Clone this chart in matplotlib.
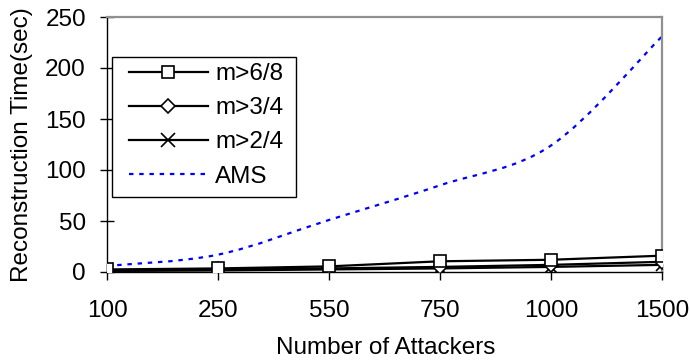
import numpy as np
import matplotlib
matplotlib.use("Agg")
import matplotlib.pyplot as plt
from matplotlib.path import Path
from matplotlib.patches import PathPatch, Rectangle
from matplotlib.lines import Line2D

categories = ["100", "250", "550", "750", "1000", "1500"]
m68 = [2.5, 3.5, 5.5, 10.5, 12, 16]
m34 = [1.5, 2.5, 3.5, 5, 7, 10]
m24 = [1, 1.5, 2.5, 3.5, 5, 7]
ams = [6, 17, 51, 85, 124, 231]
yticks = [0, 50, 100, 150, 200, 250]

plt.rcParams['font.family'] = ['Liberation Sans', 'DejaVu Sans']
FS = 17.5

W, H = 690, 360
fig = plt.figure(figsize=(W/100, H/100), dpi=100)
ax = fig.add_axes([107/W, 1-272/H, (662-107)/W, (272-17)/H])

x = np.arange(len(categories))

# smoothed AMS curve (Catmull-Rom -> cubic Bezier)
pts = np.column_stack([x, ams]).astype(float)
verts = [tuple(pts[0])]
codes = [Path.MOVETO]
n = len(pts)
for i in range(n-1):
    p0 = pts[i-1] if i > 0 else pts[i]
    p1 = pts[i]
    p2 = pts[i+1]
    p3 = pts[i+2] if i+2 < n else pts[i+1]
    c1 = p1 + (p2 - p0) / 6.0
    c2 = p2 - (p3 - p1) / 6.0
    verts += [tuple(c1), tuple(c2), tuple(p2)]
    codes += [Path.CURVE4]*3
ams_style = dict(color='#0000ff', lw=1.6, linestyle=(0, (2, 2.6)))
patch = PathPatch(Path(verts, codes), fill=False, edgecolor='#0000ff',
                  lw=1.6, linestyle=(0, (2, 2.6)), zorder=2)
ax.add_patch(patch)

ax.plot(x, m24, color='black', lw=1.6, marker='x', markersize=9,
        markeredgewidth=1.2, zorder=3)
ax.plot(x, m34, color='black', lw=1.6, marker='D', markersize=7,
        markerfacecolor='white', markeredgewidth=1.2, zorder=3)
ax.plot(x, m68, color='black', lw=1.6, marker='s', markersize=8,
        markerfacecolor='white', markeredgewidth=1.2, zorder=3)

ax.set_xlim(0, len(categories)-1)
ax.set_ylim(0, 250)
ax.set_xticks(x)
ax.set_xticklabels(categories)
ax.set_yticks(yticks)
ax.tick_params(axis='y', direction='inout', length=9.5, width=1, labelsize=FS, pad=10.4)
ax.tick_params(axis='x', direction='inout', length=11, width=1, labelsize=FS, pad=14.5)

for s in ['left', 'bottom']:
    ax.spines[s].set_color('black')
    ax.spines[s].set_linewidth(1)
for s in ['top', 'right']:
    ax.spines[s].set_color('#909090')
    ax.spines[s].set_linewidth(1.6)

ax.set_ylabel("Reconstruction Time(sec)", fontsize=FS)
ax.yaxis.set_label_coords(-0.133, 0.5)
ax.set_xlabel("Number of Attackers", fontsize=FS)
ax.xaxis.set_label_coords(0.502, -0.256)

# legend frame
frame = Rectangle((112/W, 1-197/H), (296-112)/W, (197-57)/H,
                  transform=fig.transFigure, facecolor='white',
                  edgecolor='black', lw=1, zorder=4)
ax.add_patch(frame)
frame.set_clip_on(False)

handles = [
    Line2D([], [], color='black', lw=1.6, marker='s', markersize=8.5,
           markerfacecolor='white', markeredgewidth=1.2),
    Line2D([], [], color='black', lw=1.6, marker='D', markersize=7.5,
           markerfacecolor='white', markeredgewidth=1.2),
    Line2D([], [], color='black', lw=1.6, marker='x', markersize=9.5,
           markeredgewidth=1.2),
    Line2D([], [], **ams_style),
]
labels = ["m>6/8", "m>3/4", "m>2/4", "AMS"]
leg = ax.legend(handles, labels, loc='upper left',
                bbox_to_anchor=((129-107)/555, (272-63)/255),
                borderaxespad=0, fontsize=FS, handlelength=3.25,
                handletextpad=0.3, labelspacing=0.5, borderpad=0,
                frameon=False)
leg.set_zorder(5)

fig.savefig("out.png", dpi=100)
